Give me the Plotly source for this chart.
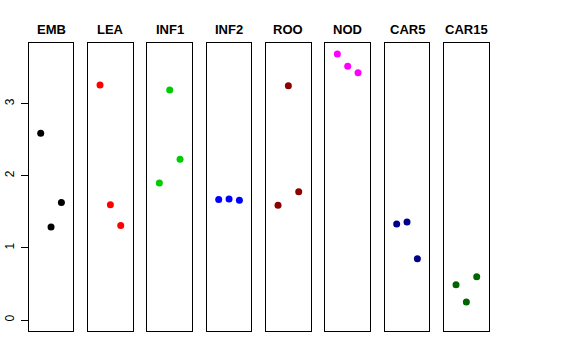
import plotly.graph_objects as go

categories = ["EMB", "LEA", "INF1", "INF2", "ROO", "NOD", "CAR5", "CAR15"]
x_pos = [1, 2, 3]
values = {
    "EMB": [2.59, 1.29, 1.63],
    "LEA": [3.26, 1.60, 1.31],
    "INF1": [1.90, 3.19, 2.23],
    "INF2": [1.67, 1.68, 1.66],
    "ROO": [1.59, 3.25, 1.78],
    "NOD": [3.69, 3.52, 3.43],
    "CAR5": [1.33, 1.36, 0.85],
    "CAR15": [0.49, 0.25, 0.60],
}
colors = ["#000000", "#FF0000", "#00CD00", "#0000FF", "#8B0000", "#FF00FF", "#00008B", "#006400"]
y_ticks = [0, 1, 2, 3]

W, H = 576, 360
left0, step, pw = 28.7, 59.33, 44.7
top_px, bot_px = 43.3, 331.0
title_px = 29

fig = go.Figure()
layout = dict(
    width=W, height=H, margin=dict(l=0, r=0, t=0, b=0, autoexpand=False),
    paper_bgcolor="white", plot_bgcolor="white", showlegend=False,
    font=dict(family="Liberation Sans, Arial, sans-serif", color="black"),
)
annotations = []
for i, cat in enumerate(categories):
    n = "" if i == 0 else str(i + 1)
    xl = left0 + step * i
    xd = [xl / W, (xl + pw) / W]
    yd = [1 - bot_px / H, 1 - top_px / H]
    fig.add_trace(go.Scatter(
        x=x_pos, y=values[cat], mode="markers",
        marker=dict(color=colors[i], size=7, line=dict(width=0)),
        xaxis="x" + n, yaxis="y" + n, hoverinfo="skip",
    ))
    layout["xaxis" + n] = dict(
        domain=xd, range=[-0.16, 4.16], showgrid=False, zeroline=False,
        showticklabels=False, ticks="", showline=True, mirror=True,
        linecolor="black", linewidth=1, anchor="y" + n, automargin=False,
    )
    ya = dict(
        domain=yd, range=[-0.1526, 3.838], showgrid=False, zeroline=False,
        showline=True, mirror=True, linecolor="black", linewidth=1,
        anchor="x" + n, automargin=False,
    )
    if i == 0:
        ya.update(tickvals=y_ticks, ticktext=[str(v) for v in y_ticks],
                  ticks="outside", ticklen=7, tickcolor="black",
                  tickangle=-90, tickfont=dict(size=12),
                  ticklabelstandoff=2)
    else:
        ya.update(showticklabels=False, ticks="")
    layout["yaxis" + n] = ya
    annotations.append(dict(
        text="<b>%s</b>" % cat, x=(xl + pw / 2) / W, y=1 - title_px / H,
        xref="paper", yref="paper", showarrow=False,
        font=dict(size=13, color="black"), xanchor="center", yanchor="middle",
    ))
layout["annotations"] = annotations
fig.update_layout(**layout)
fig.write_html("out.html", config={"displayModeBar": False},
               post_script="document.body.style.margin='0px';")
